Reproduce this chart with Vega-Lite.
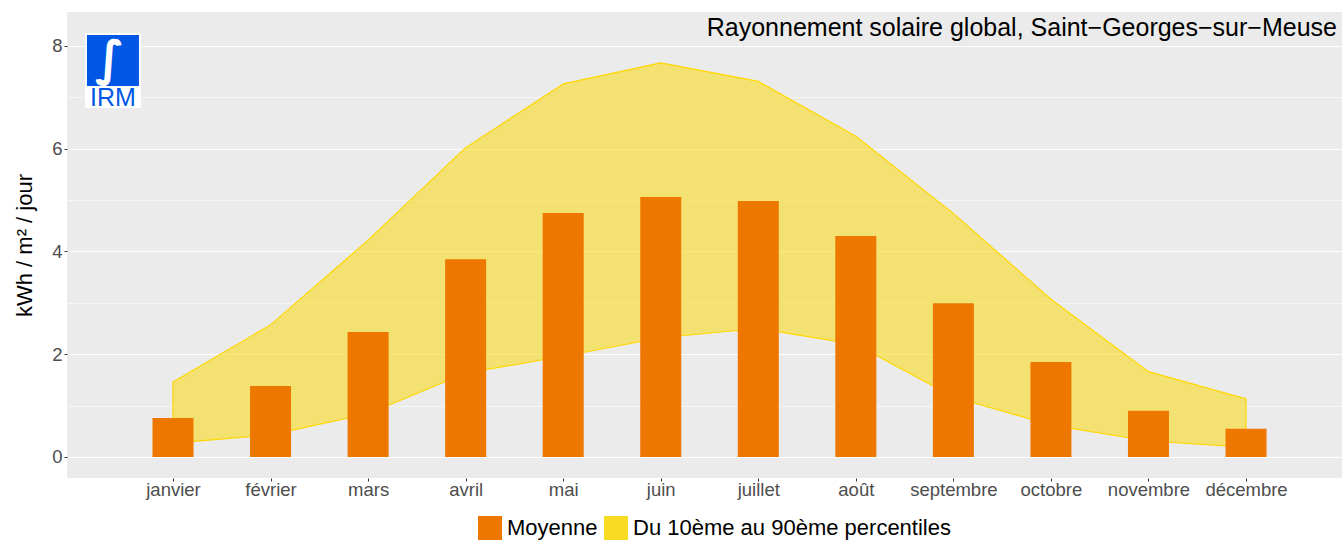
{
  "$schema": "https://vega.github.io/schema/vega-lite/v6.json",
  "width": 1275,
  "height": 466,
  "autosize": {"type": "none"},
  "padding": {"left": 67, "top": 12, "right": 0, "bottom": 62},
  "background": "white",
  "config": {
    "font": "Liberation Sans",
    "view": {"fill": "#EBEBEB", "stroke": null},
    "axis": {
      "domain": false,
      "labelFont": "Liberation Sans",
      "labelColor": "#4D4D4D",
      "labelFontSize": 18.5,
      "tickColor": "#333333",
      "tickSize": 4,
      "gridColor": "white"
    }
  },
  "data": {
    "values": [
      {"mois": 1, "moyenne": 0.76, "p10": 0.27, "p90": 1.46},
      {"mois": 2, "moyenne": 1.38, "p10": 0.43, "p90": 2.57},
      {"mois": 3, "moyenne": 2.43, "p10": 0.84, "p90": 4.22},
      {"mois": 4, "moyenne": 3.85, "p10": 1.63, "p90": 6.02},
      {"mois": 5, "moyenne": 4.75, "p10": 1.96, "p90": 7.26},
      {"mois": 6, "moyenne": 5.06, "p10": 2.32, "p90": 7.67},
      {"mois": 7, "moyenne": 4.98, "p10": 2.5, "p90": 7.31},
      {"mois": 8, "moyenne": 4.3, "p10": 2.19, "p90": 6.24},
      {"mois": 9, "moyenne": 2.99, "p10": 1.17, "p90": 4.74},
      {"mois": 10, "moyenne": 1.85, "p10": 0.62, "p90": 3.07},
      {"mois": 11, "moyenne": 0.9, "p10": 0.31, "p90": 1.66},
      {"mois": 12, "moyenne": 0.55, "p10": 0.19, "p90": 1.13}
    ]
  },
  "layer": [
    {
      "mark": {"type": "area", "fillOpacity": 0.6, "stroke": "#FFD700", "strokeWidth": 1.2, "strokeJoin": "round"},
      "encoding": {
        "x": {
          "field": "mois",
          "type": "quantitative",
          "scale": {"domain": [-0.0867, 12.984], "nice": false, "zero": false, "padding": 0},
          "axis": {
            "title": null,
            "grid": false,
            "values": [1, 2, 3, 4, 5, 6, 7, 8, 9, 10, 11, 12],
            "labelExpr": "['janvier','février','mars','avril','mai','juin','juillet','août','septembre','octobre','novembre','décembre'][datum.value - 1]",
            "labelPadding": -1,
            "tickSize": 3
          }
        },
        "y": {
          "field": "p90",
          "type": "quantitative",
          "scale": {"domain": [-0.41, 8.66], "nice": false, "zero": false, "padding": 0},
          "axis": {
            "title": "kWh / m² / jour",
            "titleFontSize": 22,
            "titleFontWeight": "normal",
            "titleColor": "black",
            "titleFont": "Liberation Sans",
            "titlePadding": 15,
            "values": [0, 1, 2, 3, 4, 5, 6, 7, 8],
            "labelExpr": "datum.value % 2 === 0 ? datum.label : ''",
            "labelPadding": 2,
            "tickSize": 3,
            "tickOpacity": {"condition": {"test": "datum.value % 2 !== 0", "value": 0}, "value": 1},
            "gridWidth": {"condition": {"test": "datum.value % 2 === 0", "value": 1.1}, "value": 0.55}
          }
        },
        "y2": {"field": "p10"},
        "color": {
          "datum": "Du 10ème au 90ème percentiles",
          "type": "nominal",
          "scale": {"domain": ["Moyenne", "Du 10ème au 90ème percentiles"], "range": ["#EE7700", "#F9DB22"]},
          "legend": {
            "orient": "none",
            "legendX": 411,
            "legendY": 504,
            "direction": "horizontal",
            "title": null,
            "symbolType": "square",
            "symbolSize": 576,
            "symbolStrokeWidth": 0,
            "symbolOpacity": 1,
            "labelFontSize": 22,
            "labelColor": "black",
            "labelFont": "Liberation Sans",
            "labelOffset": 5,
            "columnPadding": 6,
            "labelLimit": 600
          }
        }
      }
    },
    {
      "mark": {"type": "bar", "width": 41},
      "encoding": {
        "x": {"field": "mois", "type": "quantitative"},
        "y": {"field": "moyenne", "type": "quantitative"},
        "y2": {"datum": 0},
        "color": {"datum": "Moyenne", "type": "nominal"}
      }
    },
    {
      "data": {"values": [{}]},
      "mark": {"type": "text", "text": "Rayonnement solaire global, Saint−Georges−sur−Meuse", "fill": "black", "fontWeight": "normal", "font": "Liberation Sans", "fontSize": 25, "align": "right", "baseline": "alphabetic", "dx": -5},
      "encoding": {
        "x": {"datum": 12.984},
        "y": {"datum": 8.19}
      }
    },
    {
      "data": {"values": [{}]},
      "mark": {"type": "rect", "fill": "white"},
      "encoding": {
        "x": {"datum": 0.098},
        "x2": {"datum": 0.672},
        "y": {"datum": 8.249},
        "y2": {"datum": 6.79}
      }
    },
    {
      "data": {"values": [{}]},
      "mark": {"type": "rect", "fill": "#0057E6"},
      "encoding": {
        "x": {"datum": 0.118},
        "x2": {"datum": 0.651},
        "y": {"datum": 8.21},
        "y2": {"datum": 7.218}
      }
    },
    {
      "data": {"values": [{}]},
      "mark": {"type": "text", "text": "∫", "fill": "white", "font": "DejaVu Sans", "fontWeight": "bold", "fontSize": 48, "align": "center", "baseline": "middle"},
      "encoding": {
        "x": {"datum": 0.35},
        "y": {"datum": 7.7}
      }
    },
    {
      "data": {"values": [{}]},
      "mark": {"type": "text", "text": "IRM", "fill": "#0057E6", "fontWeight": "normal", "font": "Liberation Sans", "fontSize": 25, "align": "center", "baseline": "alphabetic"},
      "encoding": {
        "x": {"datum": 0.385},
        "y": {"datum": 6.829}
      }
    }
  ]
}
